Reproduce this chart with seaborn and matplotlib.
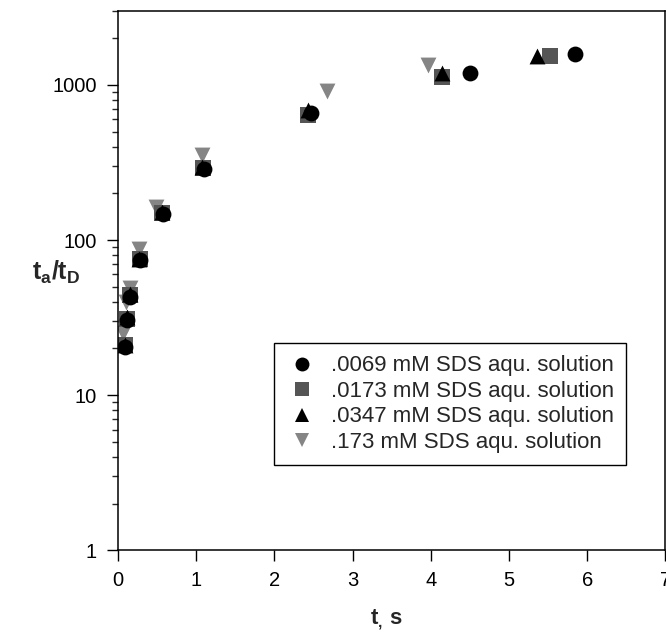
import matplotlib

matplotlib.use("Agg")
import matplotlib.pyplot as plt
import matplotlib.ticker as mticker
import pandas as pd
import seaborn as sns


# concentrations (legend order)
SERIES_LABELS = [
    ".0069 mM SDS aqu. solution",
    ".0173 mM SDS aqu. solution",
    ".0347 mM SDS aqu. solution",
    ".173 mM SDS aqu. solution",
]

# t, s  /  ta/tD for every series
T_0069 = [0.085, 0.115, 0.15, 0.28, 0.58, 1.10, 2.47, 4.50, 5.85]
R_0069 = [20.5, 30.5, 43, 74, 148, 287, 660, 1195, 1570]

T_0173 = [0.09, 0.12, 0.16, 0.28, 0.57, 1.09, 2.43, 4.15, 5.53]
R_0173 = [21, 31, 44, 75, 150, 290, 640, 1127, 1530]

T_0347 = [0.09, 0.12, 0.15, 0.27, 0.56, 1.08, 2.43, 4.15, 5.36]
R_0347 = [21, 32, 45, 76, 152, 295, 690, 1195, 1530]

T_173 = [0.07, 0.09, 0.107, 0.15, 0.27, 0.49, 1.08, 2.68, 3.97]
R_173 = [25, 27, 40, 49, 88, 164, 355, 910, 1352]

Y_TICKS = [1, 10, 100, 1000]
X_TICKS = [0, 1, 2, 3, 4, 5, 6, 7]

MARKERS = ["o", "s", "^", "v"]
COLORS = ["#000000", "#555555", "#000000", "#858585"]


def build_frame() -> pd.DataFrame:
    """
    Assemble les séries dans un seul DataFrame long.
    """
    parts = []
    for label, t, r in zip(
        SERIES_LABELS,
        [T_0069, T_0173, T_0347, T_173],
        [R_0069, R_0173, R_0347, R_173],
    ):
        parts.append(pd.DataFrame({"t": t, "ratio": r, "series": label}))
    return pd.concat(parts, ignore_index=True)


def main() -> None:
    sns.set_style("ticks")
    plt.rcParams["font.family"] = ["Liberation Sans", "DejaVu Sans"]
    plt.rcParams["mathtext.fontset"] = "custom"
    plt.rcParams["mathtext.rm"] = "Liberation Sans"
    plt.rcParams["mathtext.bf"] = "Liberation Sans:bold"

    df = build_frame()

    fig = plt.figure(figsize=(6.66, 6.37), dpi=100)
    ax = fig.add_axes([0.177, 0.136, 0.822, 0.847])

    # draw back to front: .173 first, circles on top
    handles = {}
    for idx in [3, 1, 2, 0]:
        label = SERIES_LABELS[idx]
        sub = df[df["series"] == label]
        sns.scatterplot(
            data=sub,
            x="t",
            y="ratio",
            marker=MARKERS[idx],
            color=COLORS[idx],
            edgecolor=COLORS[idx],
            linewidth=0,
            s=130,
            label=label,
            legend=False,
            ax=ax,
        )
        handles[label] = plt.Line2D(
            [], [], linestyle="none", marker=MARKERS[idx],
            color=COLORS[idx], markersize=10, markeredgewidth=0,
        )

    ax.set_yscale("log")
    ax.set_ylim(1, 3000)
    ax.set_xlim(0, 7)
    ax.set_xticks(X_TICKS)
    ax.set_yticks(Y_TICKS)
    ax.yaxis.set_major_formatter(mticker.FuncFormatter(lambda v, _: f"{v:g}"))
    ax.yaxis.set_minor_formatter(mticker.NullFormatter())

    ax.tick_params(axis="both", which="major", labelsize=14.5,
                   length=8, width=1, direction="out", colors="black")
    ax.tick_params(axis="y", which="minor", length=4, width=1, direction="out")
    ax.tick_params(axis="both", pad=7)

    for spine in ax.spines.values():
        spine.set_linewidth(1.1)
        spine.set_color("black")

    ax.set_xlabel(r"$\mathbf{t_{,}\ s}$", fontsize=16)
    ax.xaxis.set_label_coords(0.49, -0.105)
    ax.set_ylabel(r"$\mathbf{t_a/t_D}$", fontsize=18, rotation=0)
    ax.yaxis.set_label_coords(-0.112, 0.49)

    leg = ax.legend(
        [handles[l] for l in SERIES_LABELS],
        SERIES_LABELS,
        loc="upper left",
        bbox_to_anchor=(0.286, 0.384),
        borderaxespad=0,
        fontsize=16,
        frameon=True,
        fancybox=False,
        framealpha=1,
        edgecolor="black",
        labelspacing=0.2,
        handletextpad=0.6,
        handlelength=1.4,
        borderpad=0.55,
    )
    leg.get_frame().set_linewidth(1)

    fig.savefig("out.png", dpi=100)
    plt.close(fig)


if __name__ == "__main__":
    main()
